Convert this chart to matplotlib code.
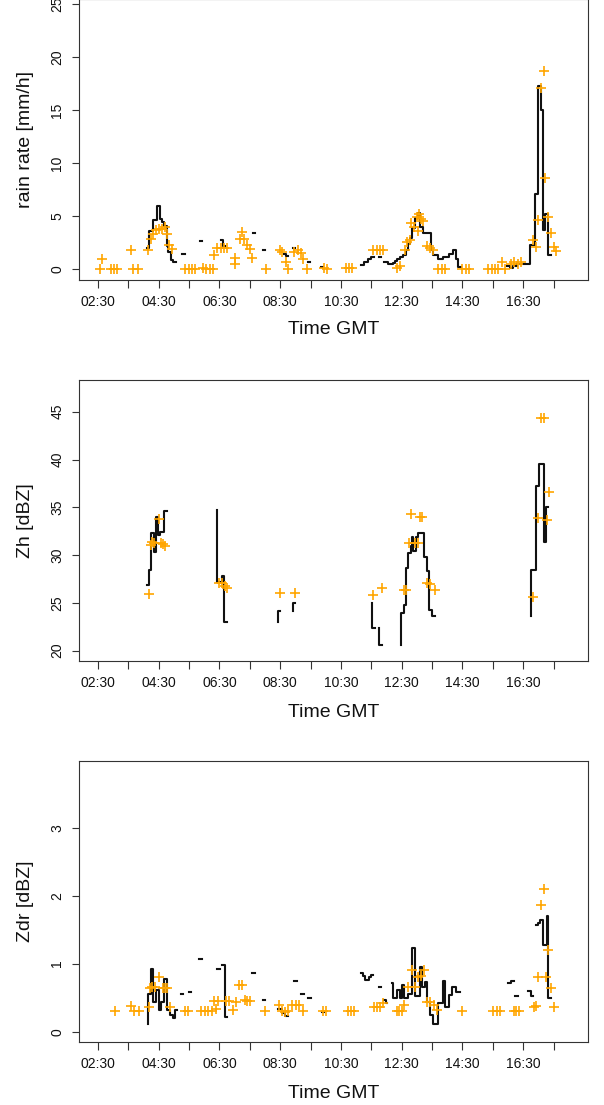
import numpy as np
import matplotlib
matplotlib.use("Agg")
import matplotlib.pyplot as plt

nan = np.nan

# ---------------- data (time in decimal hours GMT) ----------------
# rain rate step line (NaN marks the end of a segment)
rain_line_t = [4.10, 4.18, 4.33, 4.45, 4.53, 4.60, 4.68, 4.77, 4.82, 4.90, 4.97, 5.06,
               5.27, 5.36, 5.85, 5.93, 6.54, 6.62, 6.68, 7.60, 7.68, 7.93, 8.01,
               8.64, 8.70, 8.77, 8.92, 9.00, 9.41, 9.49, 9.83, 9.90,
               11.16, 11.27, 11.38, 11.49, 11.58, 11.74, 11.82,
               11.93, 12.05, 12.20, 12.28, 12.36, 12.46, 12.55, 12.63, 12.70, 12.78, 12.85, 12.94,
               13.03, 13.10, 13.20, 13.45, 13.54, 13.71, 13.87, 14.04, 14.20, 14.28, 14.35, 14.46,
               15.98, 16.05, 16.15, 16.30, 16.72, 16.88, 16.99, 17.09, 17.15, 17.23, 17.33, 17.40]
rain_line_v = [2.0, 3.6, 4.6, 5.9, 4.7, 4.4, 4.1, 2.2, 1.6, 0.85, 0.7, nan,
               1.4, nan, 2.65, nan, 2.7, 2.2, nan, 3.4, nan, 1.8, nan,
               1.4, 1.2, nan, 2.0, nan, 0.7, nan, 0.2, nan,
               0.35, 0.67, 0.93, 1.14, nan, 1.1, nan,
               0.67, 0.5, 0.55, 0.72, 0.9, 1.14, 1.36, 1.8, 2.4, 2.88, 3.83, 4.77,
               5.25, 3.98, 3.35, 1.77, 1.36, 0.98, 1.14, 1.45, 1.77, 0.98, 0.19, nan,
               0.3, 0.1, 0.3, 0.5, 2.3, 7.1, 17.3, 15.0, 3.7, 5.2, 1.3, nan]

rain_pts_t = [2.56, 2.65, 2.92, 3.03, 3.14, 3.58, 3.66, 3.83, 4.16, 4.24, 4.31, 4.40, 4.51, 4.60,
              4.71, 4.78, 4.84, 4.93, 5.37, 5.50, 5.61, 5.70, 5.96, 6.07, 6.18, 6.29, 6.32, 6.43,
              6.54, 6.65, 6.76, 7.02, 7.00, 7.23, 7.18, 7.31, 7.42, 7.50, 7.56, 8.02, 8.50, 8.57,
              8.68, 8.77, 8.96, 9.07, 9.18, 9.25, 9.37, 9.94, 10.03, 10.65, 10.76, 10.87, 11.57,
              11.68, 11.78, 11.89, 12.33, 12.44, 12.60, 12.69, 12.77, 12.81, 12.92, 13.00, 13.07,
              13.13, 13.03, 13.20, 13.32, 13.43, 13.54, 13.71, 13.82, 13.93, 14.50, 14.62, 14.73,
              15.35, 15.46, 15.57, 15.68, 15.81, 15.90, 16.10, 16.21, 16.33, 16.44, 16.83, 16.91,
              16.99, 17.10, 17.18, 17.23, 17.33, 17.41, 17.50, 17.57]
rain_pts_v = [0.0, 0.92, 0.0, 0.0, 0.0, 1.77, 0.0, 0.0, 1.77, 2.8, 3.3, 3.7, 3.8, 3.8,
              4.0, 3.3, 2.25, 1.87, 0.0, 0.0, 0.0, 0.0, 0.1, 0.0, 0.0, 0.0, 1.3, 1.93,
              1.93, 1.93, 1.93, 0.5, 1.04, 3.45, 2.87, 2.8, 2.3, 1.87, 1.0, 0.0, 1.77, 1.6,
              0.65, 0.0, 1.6, 1.77, 1.55, 0.92, 0.0, 0.1, 0.0, 0.1, 0.1, 0.1, 1.77,
              1.77, 1.77, 1.77, 0.1, 0.3, 1.77, 2.55, 2.7, 4.3, 4.0, 4.93, 5.15,
              4.7, 3.57, 4.5, 2.18, 1.99, 1.77, 0.0, 0.0, 0.0, 0.0, 0.0, 0.0,
              0.0, 0.0, 0.0, 0.0, 0.7, 0.0, 0.5, 0.7, 0.5, 0.7, 2.7, 2.1,
              4.6, 17.1, 18.7, 8.6, 4.9, 3.4, 2.1, 1.7]

# Zh step line
zh_line_t = [4.10, 4.18, 4.26, 4.35, 4.42, 4.49, 4.55, 4.67, 4.76,
             6.43, 6.43, 6.57, 6.66, 6.74,
             8.42, 8.42, 8.48, 8.93, 8.93, 9.00,
             11.51, 11.51, 11.63, 11.75, 11.75, 11.84,
             12.49, 12.49, 12.57, 12.64, 12.72, 12.79, 12.83, 12.88, 12.96, 13.05, 13.22,
             13.34, 13.41, 13.49, 13.60,
             16.76, 16.76, 16.91, 17.01, 17.18, 17.24, 17.33]
zh_line_v = [26.9, 28.4, 32.3, 30.3, 34.0, 32.1, 32.4, 34.6, nan,
             34.7, 27.2, 27.8, 23.0, nan,
             23.0, 24.2, nan, 24.2, 24.96, nan,
             25.0, 22.4, nan, 22.4, 20.6, nan,
             20.6, 23.9, 24.8, 28.6, 30.2, 31.0, 31.9, 30.4, 31.9, 32.3, 29.8,
             28.3, 24.3, 23.6, nan,
             23.6, 28.4, 37.2, 39.5, 31.4, 35.0, nan]

zh_pts_t = [4.17, 4.24, 4.29, 4.35, 4.52, 4.58, 4.64, 4.71,
            6.47, 6.57, 6.68, 6.76, 8.49, 9.00, 11.57, 11.85,
            12.59, 12.64, 12.81, 13.10, 13.16, 12.74, 12.93, 13.03, 13.33, 13.44, 13.60,
            16.83, 16.99, 17.10, 17.17, 17.27, 17.34]
zh_pts_v = [25.9, 31.1, 31.4, 31.3, 33.8, 31.3, 31.2, 31.0,
            27.1, 27.1, 26.8, 26.6, 26.0, 26.0, 25.8, 26.6,
            26.4, 26.4, 34.3, 34.0, 34.0, 31.3, 31.3, 31.3, 27.1, 27.0, 26.4,
            25.6, 33.9, 44.3, 44.3, 33.7, 36.6]

# Zdr step line
zdr_line_t = [4.14, 4.14, 4.24, 4.33, 4.42, 4.51, 4.59, 4.66, 4.78, 4.86, 4.97, 5.04, 5.12,
              5.23, 5.31, 5.50, 5.58, 5.84, 5.92, 6.43, 6.51, 6.58, 6.67, 6.76,
              7.58, 7.66, 7.92, 8.00, 8.42, 8.56, 8.66, 8.76, 8.96, 9.04, 9.20, 9.28,
              9.42, 9.50, 9.86, 9.93,
              11.15, 11.22, 11.28, 11.35, 11.42, 11.49, 11.56, 11.75, 11.82, 11.93, 11.98, 12.03,
              12.17, 12.22, 12.33, 12.44, 12.51, 12.58, 12.71, 12.85, 12.93, 13.10, 13.18, 13.26,
              13.32, 13.43, 13.54, 13.71, 13.87, 13.93, 14.04, 14.17, 14.28, 14.43,
              16.01, 16.10, 16.18, 16.22, 16.33, 16.66, 16.74, 16.82,
              16.92, 16.98, 17.05, 17.16, 17.27, 17.33, 17.41]
zdr_line_v = [0.12, 0.55, 0.92, 0.44, 0.61, 0.32, 0.44, 0.77, 0.32, 0.25, 0.2, 0.32, nan,
              0.55, nan, 0.59, nan, 1.07, nan, 0.92, nan, 0.98, 0.22, nan,
              0.86, nan, 0.46, nan, 0.33, 0.28, 0.23, nan, 0.74, nan, 0.55, nan,
              0.49, nan, 0.29, nan,
              0.87, 0.82, 0.76, 0.76, 0.80, 0.83, nan, 0.66, nan, 0.47, 0.42, nan,
              0.71, 0.5, 0.61, 0.5, 0.69, 0.5, 0.56, 1.23, 0.53, 0.95, 0.66, 0.73,
              0.44, 0.25, 0.12, 0.42, 0.74, 0.37, 0.54, 0.66, 0.59, nan,
              0.71, 0.74, nan, 0.52, nan, 0.60, 0.52, nan,
              1.57, 1.60, 1.64, 1.27, 1.70, 0.49, nan]

zdr_pts_t = [3.07, 3.58, 3.69, 3.84, 4.18, 4.22, 4.29, 4.37, 4.52, 4.63, 4.71, 4.79, 4.86,
             5.36, 5.45, 5.90, 6.01, 6.12, 6.24, 6.32, 6.44, 6.38, 6.73, 6.83, 6.94, 7.03,
             7.14, 7.24, 7.35, 7.42, 7.50, 8.00, 8.47, 8.56, 8.66, 8.76, 8.90, 9.01, 9.13,
             9.24, 9.92, 10.00, 10.72, 10.83, 10.94, 11.59, 11.68, 11.78, 11.88, 12.34,
             12.42, 12.50, 12.59, 12.72, 12.84, 12.93, 13.04, 13.14, 13.24, 13.32, 13.44,
             13.55, 13.66, 14.50, 15.51, 15.62, 15.74, 16.19, 16.27, 16.36, 16.84, 16.92,
             16.99, 17.10, 17.18, 17.26, 17.33, 17.40, 17.52]
zdr_pts_v = [0.31, 0.38, 0.31, 0.31, 0.36, 0.64, 0.65, 0.65, 0.81, 0.64, 0.64, 0.64, 0.36,
             0.31, 0.31, 0.31, 0.31, 0.31, 0.31, 0.45, 0.45, 0.34, 0.45, 0.45, 0.32, 0.44,
             0.68, 0.68, 0.47, 0.45, 0.45, 0.31, 0.39, 0.31, 0.29, 0.31, 0.39, 0.39, 0.39,
             0.31, 0.31, 0.31, 0.31, 0.31, 0.31, 0.36, 0.36, 0.37, 0.42, 0.31,
             0.31, 0.31, 0.39, 0.65, 0.90, 0.65, 0.81, 0.82, 0.90, 0.44, 0.43,
             0.39, 0.32, 0.31, 0.31, 0.31, 0.31, 0.31, 0.31, 0.31, 0.36, 0.38,
             0.81, 1.86, 2.10, 0.81, 1.20, 0.64, 0.36]

x_ticks = [2.5 + i for i in range(16)]
x_ticklabels = ["02:30", "", "04:30", "", "06:30", "", "08:30", "", "10:30", "",
                "12:30", "", "14:30", "", "16:30", ""]
y_labels = ["rain rate [mm/h]", "Zh [dBZ]", "Zdr [dBZ]"]
y_ticks = [[0, 5, 10, 15, 20, 25], [20, 25, 30, 35, 40, 45], [0, 1, 2, 3]]
y_lims = [(-1.0, 25.5), (18.92, 48.32), (-0.156, 3.98)]

# ---------------- figure ----------------
plt.rcParams['font.family'] = ['Liberation Sans', 'DejaVu Sans']
fig = plt.figure(figsize=(6.04, 11.05), dpi=100)

W, H = 604.0, 1105.0
left, right = 79.3, 587.5
boxes = [(-1.0, 279.5), (380.0, 661.0), (761.0, 1042.3)]
label_off = [-0.178, -0.182, -0.181]

series = [(rain_line_t, rain_line_v, rain_pts_t, rain_pts_v),
          (zh_line_t, zh_line_v, zh_pts_t, zh_pts_v),
          (zdr_line_t, zdr_line_v, zdr_pts_t, zdr_pts_v)]

for i, (top, bot) in enumerate(boxes):
    ax = fig.add_axes([left / W, 1 - bot / H, (right - left) / W, (bot - top) / H])
    lt, lv, pt, pv = series[i]
    ax.plot(lt, lv, drawstyle='steps-post', color='#111111', lw=1.5, zorder=2)
    ax.plot(pt, pv, linestyle='none', marker='+', color='#FFA500', ms=7.5, mew=1.2, zorder=3)
    ax.set_xlim(1.888, 18.615)
    ax.set_ylim(*y_lims[i])
    ax.set_xticks(x_ticks)
    ax.set_xticklabels(x_ticklabels)
    ax.set_yticks(y_ticks[i])
    ax.set_yticklabels([str(v) for v in y_ticks[i]], rotation=90, va='center')
    ax.tick_params(direction='out', length=5.4, width=0.8, labelsize=10, pad=5.5,
                   color='#333333', labelcolor='#111111')
    for s in ax.spines.values():
        s.set_linewidth(0.8)
        s.set_color('#333333')
    ax.set_xlabel("Time GMT", fontsize=14, color='#111111')
    ax.set_ylabel(y_labels[i], fontsize=14, color='#111111')
    ax.xaxis.set_label_coords(0.5, label_off[i])
    ax.xaxis.label.set_va('center')
    ax.yaxis.set_label_coords(-0.106, 0.5)
    ax.yaxis.label.set_va('center')

fig.savefig("out.png", dpi=100)
